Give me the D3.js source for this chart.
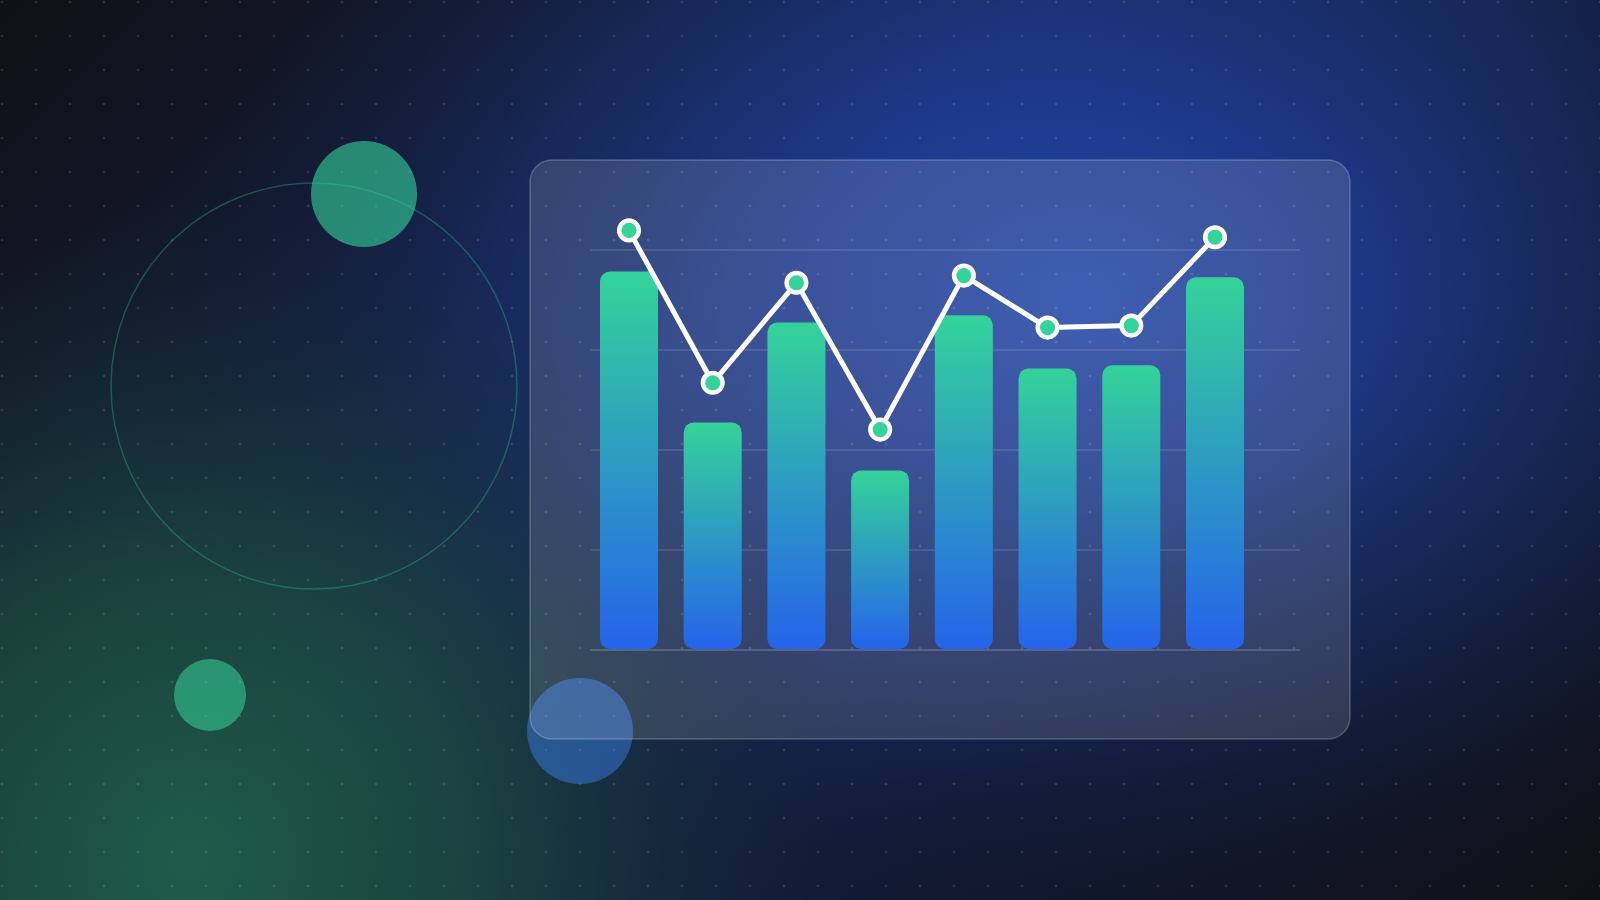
<!DOCTYPE html>
<html>
<head>
<meta charset="utf-8">
<script src="https://cdn.jsdelivr.net/npm/d3@7"></script>
<style>
  html, body { margin: 0; padding: 0; background: #0f1117; overflow: hidden; }
  svg { display: block; }
</style>
</head>
<body>
<script>
// ---- data ----
const categories = ["A", "B", "C", "D", "E", "F", "G", "H"];
const barValues  = [94.6, 56.9, 81.9, 44.9, 83.7, 70.4, 71.2, 93.2];
const lineValues = [104.9, 66.8, 91.8, 55.1, 93.6, 80.6, 81.1, 103.2];
const yTicks     = [0, 25, 50, 75, 100];

const W = 1600, H = 900;
const svg = d3.select("body").append("svg").attr("width", W).attr("height", H);
const defs = svg.append("defs");

// base diagonal gradient
const base = defs.append("linearGradient").attr("id", "baseGrad")
  .attr("gradientUnits", "userSpaceOnUse")
  .attr("x1", 0).attr("y1", 0).attr("x2", 1250).attr("y2", 1250);
[[0, "#0f1117"], [0.12, "#111522"], [0.42, "#172a62"], [0.72, "#111830"], [1, "#0f1117"]]
  .forEach(([o, c]) => base.append("stop").attr("offset", o).attr("stop-color", c));

// blue glow
const blue = defs.append("radialGradient").attr("id", "blueGlow")
  .attr("gradientUnits", "userSpaceOnUse")
  .attr("cx", 1080).attr("cy", 300).attr("r", 960)
  .attr("gradientTransform", "translate(1080,300) scale(1,0.7) translate(-1080,-300)");
[[0, "#2449ad", 0.95], [0.3, "#1f3e98", 0.78], [0.6, "#1a3272", 0.45], [1, "#0f1117", 0]]
  .forEach(([o, c, a]) => blue.append("stop").attr("offset", o).attr("stop-color", c).attr("stop-opacity", a));

// green glow
const green = defs.append("radialGradient").attr("id", "greenGlow")
  .attr("gradientUnits", "userSpaceOnUse")
  .attr("cx", 190).attr("cy", 860).attr("r", 660);
[[0, "#1f5c48", 1], [0.45, "#1b4a3a", 0.75], [1, "#14262a", 0]]
  .forEach(([o, c, a]) => green.append("stop").attr("offset", o).attr("stop-color", c).attr("stop-opacity", a));

const barGrad = defs.append("linearGradient").attr("id", "barGrad")
  .attr("x1", 0).attr("y1", 0).attr("x2", 0).attr("y2", 1);
barGrad.append("stop").attr("offset", 0).attr("stop-color", "#34d399");
barGrad.append("stop").attr("offset", 1).attr("stop-color", "#2563eb");

const dotPat = defs.append("pattern").attr("id", "dots")
  .attr("patternUnits", "userSpaceOnUse").attr("width", 34).attr("height", 34)
  .attr("x", -15).attr("y", -15);
dotPat.append("circle").attr("cx", 17).attr("cy", 17).attr("r", 1.3)
  .attr("fill", "rgba(255,255,255,0.13)");

svg.append("rect").attr("width", W).attr("height", H).attr("fill", "url(#baseGrad)");
svg.append("rect").attr("width", W).attr("height", H).attr("fill", "url(#blueGlow)");
svg.append("rect").attr("width", W).attr("height", H).attr("fill", "url(#greenGlow)");
svg.append("rect").attr("width", W).attr("height", H).attr("fill", "url(#dots)");

// decorative shapes
svg.append("circle").attr("cx", 314).attr("cy", 386).attr("r", 203)
  .attr("fill", "none").attr("stroke", "#34d399").attr("stroke-opacity", 0.3).attr("stroke-width", 1.5);
svg.append("circle").attr("cx", 364).attr("cy", 194).attr("r", 53)
  .attr("fill", "#34d399").attr("fill-opacity", 0.6);
svg.append("circle").attr("cx", 210).attr("cy", 695).attr("r", 36)
  .attr("fill", "#34d399").attr("fill-opacity", 0.55);
svg.append("circle").attr("cx", 580).attr("cy", 731).attr("r", 53)
  .attr("fill", "#3b82f6").attr("fill-opacity", 0.45);

// card
svg.append("rect").attr("x", 530).attr("y", 160).attr("width", 820).attr("height", 579)
  .attr("rx", 22).attr("fill", "rgba(255,255,255,0.13)")
  .attr("stroke", "rgba(255,255,255,0.22)").attr("stroke-width", 1.5);

// scales
const x = d3.scaleBand().domain(categories).range([600, 1244]).paddingInner(0.307).paddingOuter(0);
const y = d3.scaleLinear().domain([0, 100]).range([650, 250]);

// gridlines
svg.append("g").selectAll("line").data(yTicks).join("line")
  .attr("x1", 590).attr("x2", 1300)
  .attr("y1", d => y(d)).attr("y2", d => y(d))
  .attr("stroke", d => d === 0 ? "rgba(255,255,255,0.22)" : "rgba(255,255,255,0.14)")
  .attr("stroke-width", 1.5);

// bars
svg.append("g").selectAll("rect").data(barValues).join("rect")
  .attr("x", (d, i) => x(categories[i]))
  .attr("y", d => y(d))
  .attr("width", x.bandwidth())
  .attr("height", d => y(0) - y(d) - 1)
  .attr("rx", 10)
  .attr("fill", "url(#barGrad)");

// line
const line = d3.line()
  .x((d, i) => x(categories[i]) + x.bandwidth() / 2)
  .y(d => y(d));
svg.append("path").datum(lineValues).attr("d", line)
  .attr("fill", "none").attr("stroke", "#ffffff").attr("stroke-width", 5)
  .attr("stroke-linejoin", "round").attr("stroke-linecap", "round");

svg.append("g").selectAll("circle").data(lineValues).join("circle")
  .attr("cx", (d, i) => x(categories[i]) + x.bandwidth() / 2)
  .attr("cy", d => y(d))
  .attr("r", 9.8)
  .attr("fill", "#34d399").attr("stroke", "#ffffff").attr("stroke-width", 4.5);
</script>
</body>
</html>
